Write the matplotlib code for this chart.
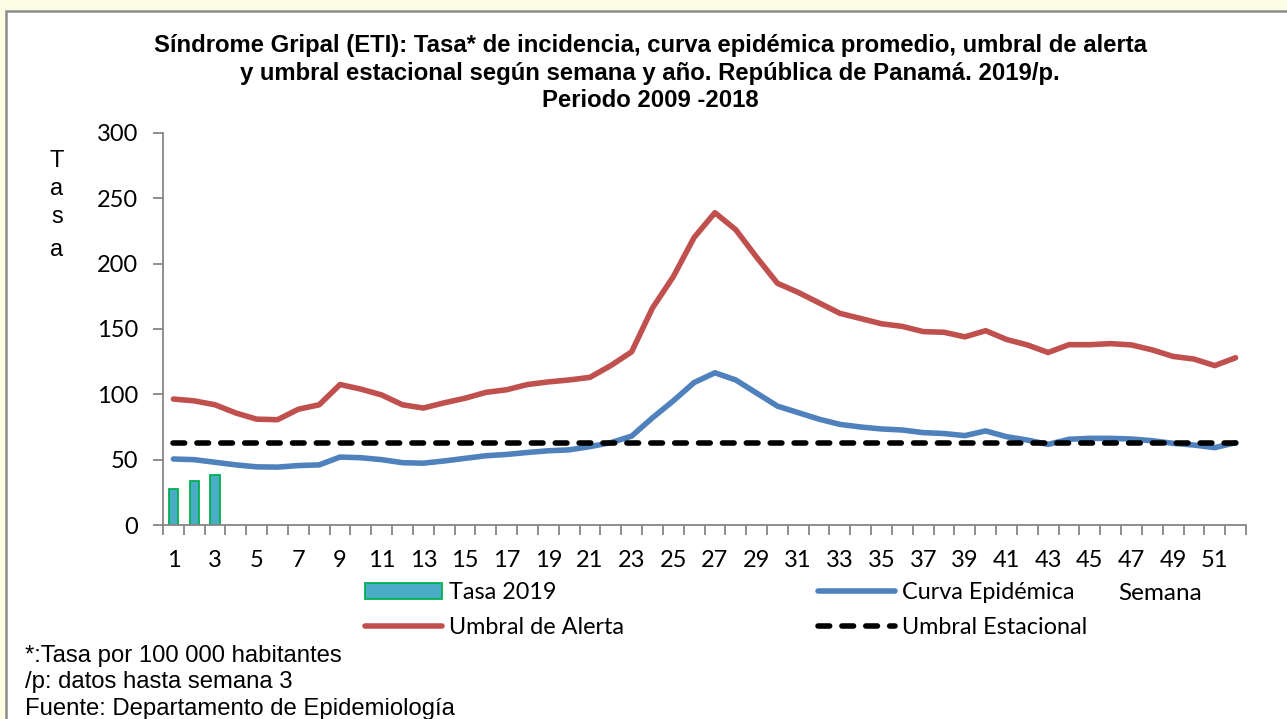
import matplotlib
matplotlib.use("Agg")
import matplotlib.pyplot as plt
from matplotlib.patches import Rectangle
import numpy as np

weeks = list(range(1, 53))
tasa_2019 = [27.5, 33.7, 38.5]
curva_epidemica = [50.5, 50, 48, 46, 44.5, 44.3, 45.5, 46, 52, 51.5,
                   50, 47.7, 47.3, 49, 51, 53, 54, 55.5, 56.8, 57.5,
                   60, 63, 68, 82, 95, 109, 116.5, 111, 101, 91,
                   86, 81, 77, 75, 73.5, 72.7, 70.7, 70, 68.4, 72,
                   67.6, 65, 61.7, 65.6, 66.3, 66.3, 65.8, 64.5, 62.5, 61.2,
                   59.2, 63]
umbral_alerta = [96.4, 95, 92, 85.7, 81, 80.6, 88.6, 92, 107.5, 104,
                 99.5, 92, 89.5, 93.5, 97, 101.5, 103.5, 107.5, 109.5, 111,
                 113, 122, 132.5, 166, 190, 220, 239, 226, 205, 185,
                 178, 170, 162, 158, 154, 152, 148, 147.5, 144, 148.7,
                 142, 137.8, 132, 138, 138, 138.8, 137.8, 134, 129, 127,
                 122, 128]
umbral_estacional = [63] * 52
y_ticks = [0, 50, 100, 150, 200, 250, 300]
x_labels = [str(w) if w % 2 == 1 else "" for w in weeks]

title = ("Síndrome Gripal (ETI): Tasa* de incidencia, curva epidémica promedio, umbral de alerta\n"
         "y umbral estacional según semana y año. República de Panamá. 2019/p.\n"
         "Periodo 2009 -2018")
notes = ["*:Tasa por 100 000 habitantes", "/p: datos hasta semana 3",
         "Fuente: Departamento de Epidemiología"]

W, H = 1287, 719
fig = plt.figure(figsize=(W / 100, H / 100), dpi=100)
fig.patch.set_facecolor("#FDFDE6")
panel = Rectangle((6 / W, -0.01), 1.0, 1 - 11 / H + 0.01, transform=fig.transFigure,
                  facecolor="white", edgecolor="#8C8C8C", linewidth=1.8, zorder=-10)
fig.patches.append(panel)

ax = fig.add_axes([163 / W, 1 - 525 / H, (1246 - 163) / W, (525 - 133) / H])
ax.set_zorder(1)
ax.patch.set_alpha(0)

tick_font = "Lato"
gray = "#868686"
lw = 4.0

x_bar = weeks[:len(tasa_2019)]
ax.bar(x_bar, tasa_2019, width=0.45, color="#4BACC6", edgecolor="#00B050",
       linewidth=1.3, label="Tasa 2019", zorder=2)
ax.plot(weeks, umbral_alerta, color="#C0504D", lw=lw, solid_joinstyle="round",
        solid_capstyle="round", label="Umbral de Alerta", zorder=3)
ax.plot(weeks, curva_epidemica, color="#4F81BD", lw=lw, solid_joinstyle="round",
        solid_capstyle="round", label="Curva Epidémica", zorder=3)
ax.plot(weeks, umbral_estacional, color="black", lw=lw, dashes=(2.1, 2.2),
        dash_capstyle="round", label="Umbral Estacional", zorder=4)

ax.set_xlim(0.5, 52.5)
ax.set_ylim(0, 300)
ax.set_yticks(y_ticks)
ax.set_xticks(weeks)
ax.set_xticklabels(x_labels)
ax.set_xticks(np.arange(0.5, 53, 1), minor=True)
ax.tick_params(axis="x", which="major", length=0, pad=18, labelsize=17)
ax.tick_params(axis="x", which="minor", length=7, width=1.3, color=gray)
ax.tick_params(axis="y", length=7, width=1.3, color=gray, pad=11, labelsize=17)
for lab in ax.get_xticklabels() + ax.get_yticklabels():
    lab.set_fontfamily(tick_font)
for s in ["top", "right"]:
    ax.spines[s].set_visible(False)
for s in ["left", "bottom"]:
    ax.spines[s].set_color(gray)
    ax.spines[s].set_linewidth(1.3)

fig.text(650 / W, 1 - 34 / H, title, ha="center", va="top", fontsize=17.2,
         fontweight="bold", family="Liberation Sans", linespacing=1.26)

for i, ch in enumerate(["T", "a", "s", "a"]):
    yy = [161, 189, 217, 250][i]
    fig.text(57 / W, 1 - yy / H, ch, ha="center", va="center", fontsize=17,
             family="Liberation Sans")

fig.text(1160 / W, 1 - 594 / H, "Semana", ha="center", va="center",
         fontsize=17.5, family=tick_font)

handles, labels = ax.get_legend_handles_labels()
order = [labels.index(n) for n in ["Tasa 2019", "Umbral de Alerta",
                                    "Curva Epidémica", "Umbral Estacional"]]
leg = fig.legend([handles[i] for i in order], [labels[i] for i in order],
                 loc="upper left", bbox_to_anchor=(365 / W, 1 - 582 / H),
                 ncol=2, frameon=False, prop={"family": tick_font, "size": 16.8},
                 handlelength=3.3, handletextpad=0.3, columnspacing=8.3,
                 labelspacing=0.62, borderpad=0, borderaxespad=0)

for i, t in enumerate(notes):
    fig.text(25 / W, 1 - [656, 682, 709][i] / H, t, ha="left", va="center",
             fontsize=17.2, family="Liberation Sans")

fig.savefig("out.png", dpi=100, facecolor=fig.get_facecolor())
